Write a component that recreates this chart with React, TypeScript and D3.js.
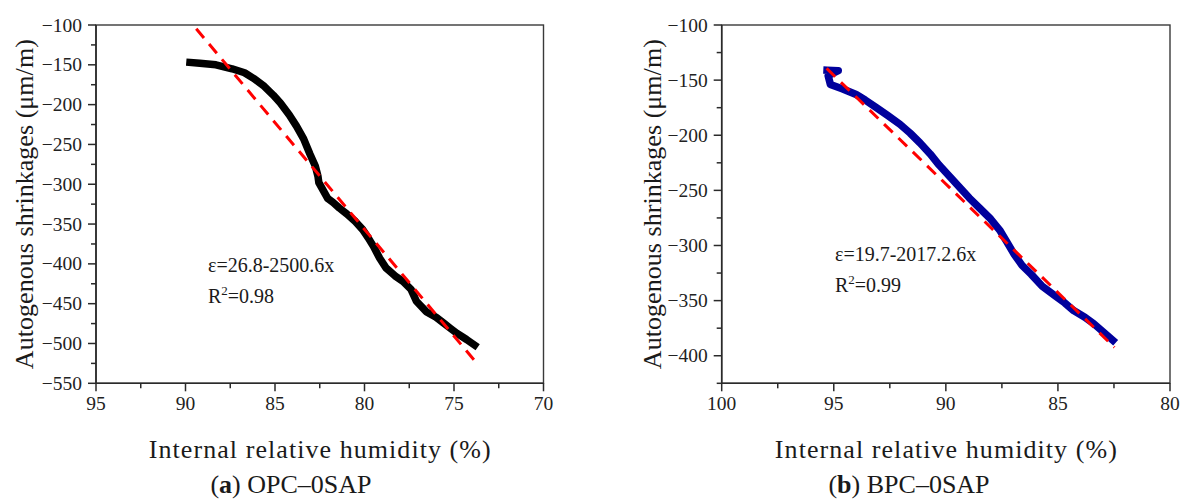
import React from "react";
import * as d3 from "d3";

// ---------- data ----------
const opcHumidity = [89.75, 89.2, 88.3, 87.4, 86.7, 86.2, 85.6, 85.1, 84.7, 84.2, 83.8, 83.4, 83.05, 82.75, 82.6, 82.55, 82.3, 82.05, 81.75, 81.4, 81.0, 80.5, 80.1, 79.8, 79.5, 79.15, 78.8, 78.3, 77.85, 77.4, 77.1, 76.55, 76.0, 75.6, 75.2, 74.85, 74.3, 73.85];
const opcShrinkage = [-147, -148, -150, -155, -160, -167, -177, -188, -198, -213, -227, -243, -262, -277, -290, -298, -308, -318, -323, -330, -337, -347, -357, -367, -378, -393, -405, -415, -422, -432, -447, -460, -467, -474, -481, -487, -495, -502];

const bpcHumidity = [95.3, 94.8, 95.25, 95.15, 94.6, 94.0, 93.6, 93.1, 92.6, 92.05, 91.6, 91.15, 90.7, 90.3, 89.85, 89.4, 88.95, 88.5, 88.0, 87.6, 87.3, 86.95, 86.6, 86.2, 85.7, 85.1, 84.7, 84.3, 83.8, 83.4, 83.0, 82.55];
const bpcShrinkage = [-141, -141.5, -146, -154, -158, -163, -168, -175, -182, -190, -198, -207, -217, -227, -237, -247, -257, -266, -276, -286, -296, -308, -318, -326, -337, -346, -352, -359, -365, -371, -378, -386];

// linear fits: shrinkage = slope * humidity + intercept, drawn over [from, to]
const opcFit = { slope: 26.8, intercept: -2500.6, from: 89.4, to: 73.8 };
const bpcFit = { slope: 19.7, intercept: -2017.2, from: 95.32, to: 82.48 };

const opcXTicks = [95, 90, 85, 80, 75, 70];
const opcYTicks = [-100, -150, -200, -250, -300, -350, -400, -450, -500, -550];
const bpcXTicks = [100, 95, 90, 85, 80];
const bpcYTicks = [-100, -150, -200, -250, -300, -350, -400];

const FONT = "'Liberation Serif', 'Times New Roman', serif";

type PanelProps = {
  left: number;
  right: number;
  top: number;
  bottom: number;
  xDomain: [number, number];
  yDomain: [number, number];
  xTicks: number[];
  yTicks: number[];
  hum: number[];
  shr: number[];
  fit: { slope: number; intercept: number; from: number; to: number };
  color: string;
  eq: string;
  r2: string;
  eqX: number;
  eqY: number;
  r2Y: number;
  yTitleX: number;
  capX: number;
  capLetter: string;
  capText: string;
};

function Panel(p: PanelProps) {
  const x = d3.scaleLinear().domain(p.xDomain).range([p.left, p.right]);
  const y = d3.scaleLinear().domain(p.yDomain).range([p.bottom, p.top]);
  const pts: [number, number][] = p.hum.map((h, i) => [h, p.shr[i]]);
  const line = d3
    .line<[number, number]>()
    .x((d) => x(d[0]))
    .y((d) => y(d[1]));
  const fitPts: [number, number][] = [
    [p.fit.from, p.fit.slope * p.fit.from + p.fit.intercept],
    [p.fit.to, p.fit.slope * p.fit.to + p.fit.intercept],
  ];
  const xStep = p.xTicks[0] - p.xTicks[1];
  const xMinor = p.xTicks.slice(0, -1).map((t) => t - xStep / 2);
  const yStep = p.yTicks[0] - p.yTicks[1];
  const yMinorAll = p.yTicks.map((t) => t - yStep / 2);
  const yMinor = yMinorAll.filter((t) => t >= Math.min(...p.yDomain) - 1e-6);
  const axisColor = "#2a2a2a";
  const midY = (p.top + p.bottom) / 2;
  const midX = (p.left + p.right) / 2;
  return (
    <g>
      {/* frame */}
      <rect x={p.left} y={p.top} width={p.right - p.left} height={p.bottom - p.top} fill="none" stroke="#3a3a3a" strokeWidth={1.4} />
      <line x1={p.left} x2={p.left} y1={p.top} y2={p.bottom} stroke={axisColor} strokeWidth={1.6} />
      <line x1={p.left} x2={p.right} y1={p.bottom} y2={p.bottom} stroke={axisColor} strokeWidth={1.6} />
      {/* x ticks */}
      {p.xTicks.map((t) => (
        <g key={"xt" + t}>
          <line x1={x(t)} x2={x(t)} y1={p.bottom} y2={p.bottom + 8} stroke={axisColor} strokeWidth={1.5} />
          <text x={x(t)} y={p.bottom + 27} textAnchor="middle" fontFamily={FONT} fontSize={19.5} fill="#222">
            {t}
          </text>
        </g>
      ))}
      {xMinor.map((t) => (
        <line key={"xm" + t} x1={x(t)} x2={x(t)} y1={p.bottom} y2={p.bottom + 5} stroke={axisColor} strokeWidth={1.5} />
      ))}
      {/* y ticks */}
      {p.yTicks.map((t) => (
        <g key={"yt" + t}>
          <line x1={p.left - 8} x2={p.left} y1={y(t)} y2={y(t)} stroke={axisColor} strokeWidth={1.5} />
          <text x={p.left - 14} y={y(t)} dy="0.34em" textAnchor="end" fontFamily={FONT} fontSize={19.5} fill="#222">
            {"\u2212" + Math.abs(t)}
          </text>
        </g>
      ))}
      {yMinor.map((t) => (
        <line key={"ym" + t} x1={p.left - 5} x2={p.left} y1={y(t)} y2={y(t)} stroke={axisColor} strokeWidth={1.5} />
      ))}
      {/* data */}
      <path d={line(pts) || ""} fill="none" stroke={p.color} strokeWidth={7.5} strokeLinejoin="round" strokeLinecap="square" />
      <path d={line(fitPts) || ""} fill="none" stroke="#ff0000" strokeWidth={3} strokeDasharray="12 8" />
      {/* annotation */}
      <text x={p.eqX} y={p.eqY} fontFamily={FONT} fontSize={20} fill="#1a1a1a">
        {p.eq}
      </text>
      <text x={p.eqX} y={p.r2Y} fontFamily={FONT} fontSize={20} fill="#1a1a1a">
        R
        <tspan fontSize={13} dy={-8}>
          2
        </tspan>
        <tspan dy={8}>{"=" + p.r2}</tspan>
      </text>
      {/* axis titles */}
      <text
        transform={`translate(${p.yTitleX},${midY}) rotate(-90)`}
        textAnchor="middle"
        fontFamily={FONT}
        fontSize={26}
        textLength={330}
        fill="#1a1a1a"
      >
        Autogenous shrinkages (μm/m)
      </text>
      <text x={midX} y={458} textAnchor="middle" fontFamily={FONT} fontSize={26} textLength={342} fill="#1a1a1a">
        Internal relative humidity (%)
      </text>
      <text x={p.capX} y={493} textAnchor="middle" fontFamily={FONT} fontSize={26} fill="#1a1a1a">
        (<tspan fontWeight="bold">{p.capLetter}</tspan>) {p.capText}
      </text>
    </g>
  );
}

export default function App() {
  return (
    <svg width={1186} height={502} style={{ position: "absolute", left: 0, top: 0, background: "#fff" }}>
      <rect width={1186} height={502} fill="#fff" />
      <Panel
        left={96}
        right={543.5}
        top={25}
        bottom={383.3}
        xDomain={[95, 70]}
        yDomain={[-550, -100]}
        xTicks={opcXTicks}
        yTicks={opcYTicks}
        hum={opcHumidity}
        shr={opcShrinkage}
        fit={opcFit}
        color="#000000"
        eq="ε=26.8-2500.6x"
        r2="0.98"
        eqX={208}
        eqY={272}
        r2Y={303}
        yTitleX={33}
        capX={291}
        capLetter="a"
        capText="OPC–0SAP"
      />
      <Panel
        left={721.7}
        right={1170}
        top={25}
        bottom={383.3}
        xDomain={[100, 80]}
        yDomain={[-425, -100]}
        xTicks={bpcXTicks}
        yTicks={bpcYTicks}
        hum={bpcHumidity}
        shr={bpcShrinkage}
        fit={bpcFit}
        color="#00009c"
        eq="ε=19.7-2017.2.6x"
        r2="0.99"
        eqX={835}
        eqY={261}
        r2Y={292}
        yTitleX={661}
        capX={909}
        capLetter="b"
        capText="BPC–0SAP"
      />
    </svg>
  );
}
